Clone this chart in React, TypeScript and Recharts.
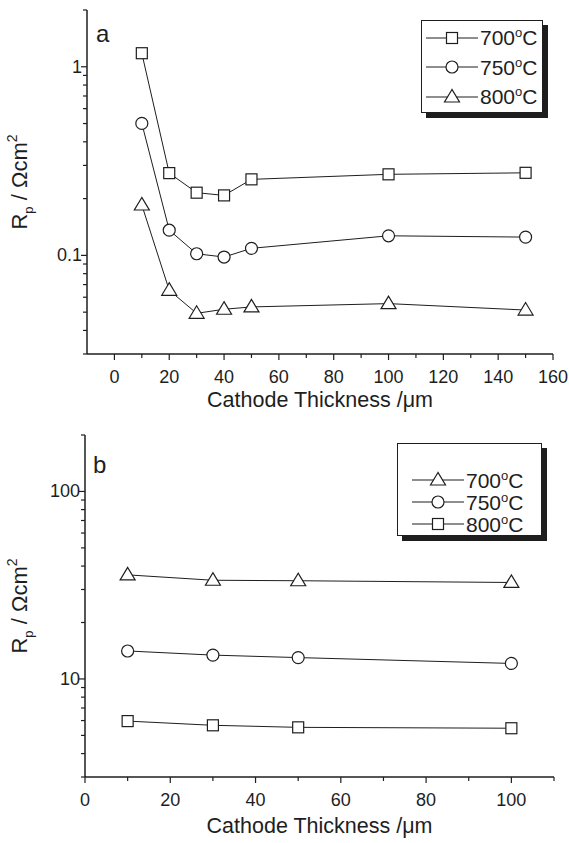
import React from 'react';
import { LineChart, Line, XAxis, YAxis, Legend } from 'recharts';

// panel a: Rp vs cathode thickness
const xA = [10, 20, 30, 40, 50, 100, 150];
const a700 = [1.18, 0.273, 0.215, 0.208, 0.253, 0.269, 0.274];
const a750 = [0.501, 0.136, 0.102, 0.098, 0.109, 0.127, 0.125];
const a800 = [0.185, 0.0653, 0.0493, 0.0518, 0.0533, 0.0555, 0.0513];

// panel b
const xB = [10, 30, 50, 100];
const b700 = [35.9, 33.6, 33.4, 32.7];
const b750 = [14.1, 13.4, 13.0, 12.1];
const b800 = [5.96, 5.66, 5.52, 5.46];

const xMajorA = [0, 20, 40, 60, 80, 100, 120, 140, 160];
const xMinorA = [10, 30, 50, 70, 90, 110, 130, 150];
const yMajorA = [0.1, 1];
const yMinorA = [0.03, 0.04, 0.05, 0.06, 0.07, 0.08, 0.09, 0.2, 0.3, 0.4, 0.5, 0.6, 0.7, 0.8, 0.9, 2];

const xMajorB = [0, 20, 40, 60, 80, 100];
const xMinorB = [10, 30, 50, 70, 90, 110];
const yMajorB = [10, 100];
const yMinorB = [3, 4, 5, 6, 7, 8, 9, 20, 30, 40, 50, 60, 70, 80, 90, 200];

const INK = '#1e1e1e';
const FONT = 'Liberation Sans, Arial, sans-serif';

const rowsA = xA.map((x, i) => ({ x, s700: a700[i], s750: a750[i], s800: a800[i] }));
const rowsB = xB.map((x, i) => ({ x, s700: b700[i], s750: b750[i], s800: b800[i] }));

const Marker = (props: any) => {
  const { cx, cy, shape } = props;
  if (cx == null || cy == null) return null;
  if (shape === 'square')
    return <rect x={cx - 5.5} y={cy - 5.5} width={11} height={11} fill="#fff" stroke={INK} strokeWidth={1.2} />;
  if (shape === 'circle') return <circle cx={cx} cy={cy} r={6} fill="#fff" stroke={INK} strokeWidth={1.2} />;
  return (
    <polygon
      points={`${cx},${cy - 7.5} ${cx - 7.5},${cy + 5} ${cx + 7.5},${cy + 5}`}
      fill="#fff"
      stroke={INK}
      strokeWidth={1.2}
    />
  );
};

// tick drawers: tickSize/tickMargin are 0 so x/y land on the axis line
const LeftTick = (majors: number[]) => (props: any) => {
  const { x, y, payload } = props;
  const major = majors.includes(payload.value);
  return (
    <g>
      <line x1={x} x2={x - (major ? 6 : 4)} y1={y} y2={y} stroke={INK} strokeWidth={1.2} />
      {major && (
        <text x={x - 5} y={y} dy={6} textAnchor="end" fontSize={18} fill={INK} fontFamily={FONT}>
          {String(payload.value)}
        </text>
      )}
    </g>
  );
};

const RightTick = (majors: number[]) => (props: any) => {
  const { x, y, payload } = props;
  const major = majors.includes(payload.value);
  return <line x1={x} x2={x + (major ? 6 : 4)} y1={y} y2={y} stroke={INK} strokeWidth={1.2} />;
};

const BottomTick = (majors: number[]) => (props: any) => {
  const { x, y, payload } = props;
  const major = majors.includes(payload.value);
  return (
    <g>
      <line x1={x} x2={x} y1={y} y2={y + (major ? 6 : 4)} stroke={INK} strokeWidth={1.2} />
      {major && (
        <text x={x} y={y + 29} textAnchor="middle" fontSize={18} fill={INK} fontFamily={FONT}>
          {payload.value}
        </text>
      )}
    </g>
  );
};

const TopTick = (majors: number[]) => (props: any) => {
  const { x, y, payload } = props;
  const major = majors.includes(payload.value);
  return <line x1={x} x2={x} y1={y} y2={y + (major ? 6 : 4)} stroke={INK} strokeWidth={1.2} />;
};

const YTitle = (props: any) => {
  const { viewBox } = props;
  const cx = 27;
  const cy = viewBox.y + viewBox.height / 2;
  return (
    <text
      x={cx}
      y={cy}
      transform={`rotate(-90 ${cx} ${cy})`}
      textAnchor="middle"
      fontSize={22}
      fill={INK}
      fontFamily={FONT}
    >
      R<tspan fontSize={13} dy={6}>p</tspan>
      <tspan dy={-6}> / Ωcm</tspan>
      <tspan fontSize={14} dy={-10}>2</tspan>
    </text>
  );
};

const XTitle = (gap: number) => (props: any) => {
  const { viewBox } = props;
  return (
    <text
      x={viewBox.x + viewBox.width / 2}
      y={viewBox.y + gap}
      textAnchor="middle"
      fontSize={21.5}
      fill={INK}
      fontFamily={FONT}
    >
      Cathode Thickness /μm
    </text>
  );
};

const LegendBox = (
  entries: { label: string; shape: string }[],
  rowH: number,
  pad: string
) => () => (
  <div
    style={{
      background: '#fff',
      border: `1px solid ${INK}`,
      boxShadow: `5px 5px 0 ${INK}`,
      padding: pad,
      fontFamily: FONT,
      fontSize: 21,
      color: INK,
      boxSizing: 'border-box',
    }}
  >
    {entries.map((e) => (
      <div key={e.label} style={{ display: 'flex', alignItems: 'center', height: rowH, whiteSpace: 'nowrap' }}>
        <svg width={52} height={20} style={{ marginRight: 2, flexShrink: 0 }}>
          <line x1={0} x2={52} y1={10} y2={10} stroke={INK} strokeWidth={1.2} />
          <Marker cx={26} cy={10} shape={e.shape} />
        </svg>
        <span>
          {e.label.replace('°C', '')}
          <sup style={{ fontSize: 13 }}>o</sup>C
        </span>
      </div>
    ))}
  </div>
);

const Panel = (p: {
  rows: any[];
  xDomain: [number, number];
  xMajor: number[];
  xMinor: number[];
  yDomain: [number, number];
  yMajor: number[];
  yMinor: number[];
  margin: any;
  yWidth: number;
  height: number;
  shapes: string[];
  tag: string;
  tagPos: [number, number];
  legendPos: any;
  rowH: number;
  pad: string;
  titleGap: number;
}) => {
  const keys = ['s700', 's750', 's800'];
  const labels = ['700°C', '750°C', '800°C'];
  const xt = [...p.xMajor, ...p.xMinor].sort((a, b) => a - b);
  const yt = [...p.yMajor, ...p.yMinor].sort((a, b) => a - b);
  const entries = labels.map((l, i) => ({ label: l, shape: p.shapes[i] }));
  return (
    <LineChart width={569} height={p.height} data={p.rows} margin={p.margin}>
      <XAxis
        xAxisId="b"
        type="number"
        dataKey="x"
        domain={p.xDomain}
        ticks={xt}
        interval={0}
        tickSize={0}
        tickMargin={0}
        tickLine={false}
        tick={BottomTick(p.xMajor)}
        axisLine={{ stroke: INK, strokeWidth: 1.5 }}
        height={66}
        label={{ content: XTitle(p.titleGap) }}
        allowDataOverflow
      />
      <XAxis
        xAxisId="t"
        orientation="top"
        type="number"
        dataKey="x"
        domain={p.xDomain}
        ticks={xt}
        interval={0}
        tickSize={0}
        tickMargin={0}
        tickLine={false}
        tick={TopTick(p.xMajor)}
        axisLine={{ stroke: INK, strokeWidth: 1.5 }}
        height={0}
        allowDataOverflow
      />
      <YAxis
        yAxisId="l"
        scale="log"
        type="number"
        domain={p.yDomain}
        ticks={yt}
        interval={0}
        tickSize={0}
        tickMargin={0}
        tickLine={false}
        tick={LeftTick(p.yMajor)}
        axisLine={{ stroke: INK, strokeWidth: 1.5 }}
        width={p.yWidth}
        label={{ content: YTitle }}
        allowDataOverflow
      />
      <YAxis
        yAxisId="r"
        orientation="right"
        scale="log"
        type="number"
        domain={p.yDomain}
        ticks={yt}
        interval={0}
        tickSize={0}
        tickMargin={0}
        tickLine={false}
        tick={RightTick(p.yMajor)}
        axisLine={{ stroke: INK, strokeWidth: 1.5 }}
        width={0}
        allowDataOverflow
      />
      <text x={p.tagPos[0]} y={p.tagPos[1]} fontSize={24} fill={INK} fontFamily={FONT}>
        {p.tag}
      </text>
      <Legend
        layout="horizontal"
        verticalAlign="middle"
        align="center"
        content={LegendBox(entries, p.rowH, p.pad)}
        wrapperStyle={p.legendPos}
      />
      {keys.map((k, i) => (
        <Line
          key={k}
          xAxisId="b"
          yAxisId="l"
          dataKey={k}
          name={labels[i]}
          stroke={INK}
          strokeWidth={1}
          dot={<Marker shape={p.shapes[i]} />}
          activeDot={false}
          isAnimationActive={false}
        />
      ))}
    </LineChart>
  );
};

export default function App() {
  return (
    <div style={{ position: 'absolute', left: 0, top: 0, width: 569, height: 843, background: '#fff' }}>
      <div style={{ position: 'absolute', left: 0, top: 0 }}>
        <Panel
          rows={rowsA}
          xDomain={[-10, 160]}
          xMajor={xMajorA}
          xMinor={xMinorA}
          yDomain={[0.03, 2]}
          yMajor={yMajorA}
          yMinor={yMinorA}
          margin={{ top: 10, right: 16, bottom: 0, left: 0 }}
          yWidth={87}
          height={420}
          shapes={['square', 'circle', 'triangle']}
          tag="a"
          tagPos={[96, 42]}
          legendPos={{ position: 'absolute', left: 421, top: 20, width: 122, height: 94 }}
          rowH={29.5}
          pad="2px 0 0 4px"
          titleGap={53}
        />
      </div>
      <div style={{ position: 'absolute', left: 0, top: 420 }}>
        <Panel
          rows={rowsB}
          xDomain={[0, 110]}
          xMajor={xMajorB}
          xMinor={xMinorB}
          yDomain={[3, 200]}
          yMajor={yMajorB}
          yMinor={yMinorB}
          margin={{ top: 15, right: 15, bottom: 0, left: 0 }}
          yWidth={85}
          height={423}
          shapes={['triangle', 'circle', 'square']}
          tag="b"
          tagPos={[93, 53]}
          legendPos={{ position: 'absolute', left: 397, top: 23, width: 145, height: 114 }}
          rowH={22}
          pad="25px 0 0 14px"
          titleGap={56}
        />
      </div>
    </div>
  );
}
